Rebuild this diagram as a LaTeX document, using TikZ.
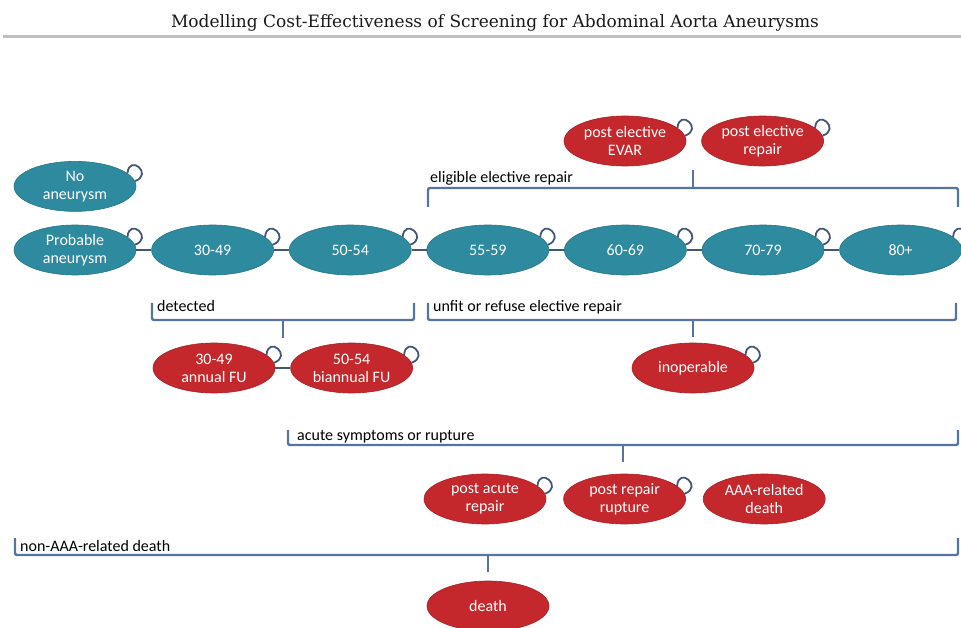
\documentclass[tikz,border=0pt]{standalone}
\usepackage{fontspec}
\setmainfont{Carlito}
\newfontfamily\titlefont{DejaVu Serif}
\usetikzlibrary{positioning,shapes.geometric}

\definecolor{agecol}{RGB}{46,138,158}
\definecolor{redcol}{RGB}{196,40,44}
\definecolor{bracecol}{RGB}{86,116,160}
\definecolor{loopcol}{RGB}{66,86,118}

\tikzset{
    stage/.style={ellipse, minimum width=122pt, minimum height=50pt,
        inner sep=0pt, align=center, text=white,
        font=\fontsize{16}{18}\selectfont},
    age/.style={stage, fill=agecol, draw=agecol!85!black, line width=0.6pt},
    event/.style={stage, fill=redcol, draw=redcol!85!black, line width=0.6pt},
    link/.style={draw=loopcol, line width=1.6pt},
    selfloop/.style={draw=loopcol, line width=1.8pt},
    brace/.style={draw=bracecol, line width=2.4pt, rounded corners=2pt},
    bracelabel/.style={anchor=base west, inner sep=0pt,
        font=\fontsize{16}{18}\selectfont}
}

\begin{document}
\begin{tikzpicture}[x=1pt, y=-1pt]
    \useasboundingbox (0,0) rectangle (961,628);

    % title
    \node (title) [anchor=base, inner sep=0pt, font=\titlefont\fontsize{17}{19}\selectfont,
        text=black!90] at (495,28) {Modelling Cost-Effectiveness of Screening for Abdominal Aorta Aneurysms};
    \draw[black!25, line width=3pt] (3,37) -- (961,37);

    % age groups
    \node[age] (prob) at (75,250) {Probable\\aneurysm};
    \node[age] (noan) [above=13pt of prob] {No\\aneurysm};
    \node[age] (a30) [right=15pt of prob] {30-49};
    \node[age] (a50) [right=15pt of a30] {50-54};
    \node[age] (a55) [right=15pt of a50] {55-59};
    \node[age] (a60) [right=15pt of a55] {60-69};
    \node[age] (a70) [right=15pt of a60] {70-79};
    \node[age] (a80) [right=15pt of a70] {80+};

    % events
    \node[event] (pev) at (625,141) {post elective\\EVAR};
    \node[event] (per) [right=15pt of pev] {post elective\\repair};
    \node[event] (fu30) at (214,368) {30-49\\annual FU};
    \node[event] (fu50) [right=15pt of fu30] {50-54\\biannual FU};
    \node[event] (inop) at (693,368) {inoperable};
    \node[event] (par) at (485,499) {post acute\\repair};
    \node[event] (prr) [right=17pt of par] {post repair\\rupture};
    \node[event] (aaad) [right=17pt of prr] {AAA-related\\death};
    \node[event] (death) at (488,606) {death};

    \foreach \a/\b in {prob/a30,a30/a50,a50/a55,a55/a60,a60/a70,a70/a80,fu30/fu50}
        \draw[link] (\a) -- (\b);
    \foreach \n in {noan,prob,a30,a50,a55,a60,a70,a80,pev,per,fu30,fu50,inop,par,prr}
        \draw[selfloop] (\n.14) .. controls +(-85:20) and +(-20:20) .. (\n.5);

    % brackets
    \draw[brace] (428,207) |- (958,188) -- (958,207);
    \draw[brace] (693,188) -- (693,170);
    \node[bracelabel] (elig) at (430,183) {eligible elective repair};

    \draw[brace] (152,303) |- (414,320) -- (414,303);
    \draw[brace] (283,320) -- (283,338);
    \node[bracelabel] (det) at (157,312) {detected};

    \draw[brace] (428,303) |- (956,320) -- (956,303);
    \draw[brace] (693,320) -- (693,337);
    \node[bracelabel] (unfit) at (433,312) {unfit or refuse elective repair};

    \draw[brace] (288,430) |- (958,445) -- (958,430);
    \draw[brace] (623,445) -- (623,462);
    \node[bracelabel] (acute) at (297,440) {acute symptoms or rupture};

    \draw[brace] (15,538) |- (958,555) -- (958,538);
    \draw[brace] (488,555) -- (488,572);
    \node[bracelabel] (nonaaa) at (20,551) {non-AAA-related death};
\end{tikzpicture}
\end{document}
